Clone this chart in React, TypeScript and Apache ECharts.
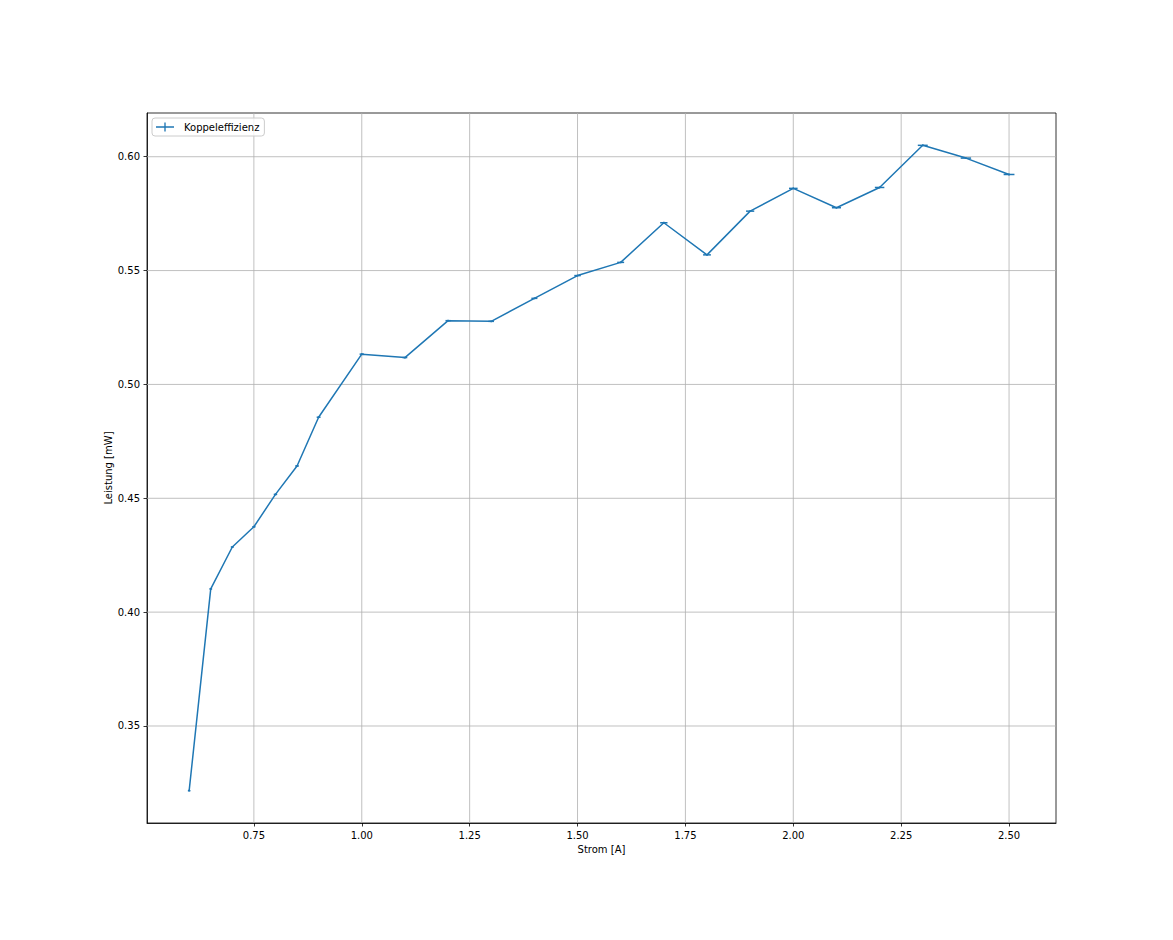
import React, { useEffect, useRef } from "react";
import * as echarts from "echarts";

const current = [0.6, 0.65, 0.7, 0.75, 0.8, 0.85, 0.9, 1.0, 1.1, 1.2, 1.3, 1.4, 1.5, 1.6, 1.7, 1.8, 1.9, 2.0, 2.1, 2.2, 2.3, 2.4, 2.5];
const power = [0.3216, 0.4102, 0.4286, 0.4375, 0.4517, 0.4642, 0.4856, 0.5133, 0.5118, 0.528, 0.5277, 0.5378, 0.5478, 0.5536, 0.571, 0.5569, 0.5761, 0.5861, 0.5776, 0.5865, 0.605, 0.5994, 0.5922];
const currentErr = [0.003, 0.00325, 0.0035, 0.00375, 0.004, 0.00425, 0.0045, 0.005, 0.0055, 0.006, 0.0065, 0.007, 0.0075, 0.008, 0.0085, 0.009, 0.0095, 0.01, 0.0105, 0.011, 0.0115, 0.012, 0.0125];
const powerErr = [0.0004, 0.0004, 0.0004, 0.0004, 0.0004, 0.0004, 0.0004, 0.0004, 0.0004, 0.0004, 0.0004, 0.0004, 0.0004, 0.0004, 0.0004, 0.0004, 0.0004, 0.0004, 0.0004, 0.0004, 0.0004, 0.0004, 0.0004];
const xTicks = [0.75, 1.0, 1.25, 1.5, 1.75, 2.0, 2.25, 2.5];
const yTicks = [0.35, 0.4, 0.45, 0.5, 0.55, 0.6];

const seriesName = "Koppeleffizienz";
const xName = "Strom [A]";
const yName = "Leistung [mW]";

const BLUE = "#1f77b4";
const FONT = "DejaVu Sans";

export default function App() {
  const ref = useRef<HTMLDivElement>(null);
  useEffect(() => {
    if (!ref.current) return;
    const chart = echarts.init(ref.current, null, { renderer: "svg" });
    const lineData = current.map((x, i) => [x, power[i]]);
    const errData = current.map((x, i) => [x, power[i], currentErr[i], powerErr[i]]);
    const textStyle = { color: "#000", fontSize: 10, fontFamily: FONT };
    chart.setOption({
      animation: false,
      backgroundColor: "#fff",
      textStyle: { fontFamily: FONT },
      grid: {
        left: 147,
        top: 113,
        right: 117,
        bottom: 117,
        show: true,
        borderColor: "#000",
        borderWidth: 0.8,
        backgroundColor: "transparent",
      },
      legend: {
        left: 152,
        top: 118,
        padding: [4, 5, 4, 4],
        itemWidth: 20,
        itemHeight: 9,
        borderColor: "#cccccc",
        borderWidth: 1,
        borderRadius: 3,
        backgroundColor: "rgba(255,255,255,0.8)",
        textStyle: { ...textStyle, padding: [0, 0, 0, 4] },
        data: [
          {
            name: seriesName,
            icon: "path://M0,4.25H20V5.75H0Z M9.25,0H10.75V10H9.25Z",
          },
        ],
      },
      xAxis: {
        type: "value",
        min: 0.5023,
        max: 2.6088,
        name: xName,
        nameLocation: "middle",
        nameGap: 21,
        nameTextStyle: textStyle,
        axisLine: { show: true, lineStyle: { color: "#000", width: 0.8 } },
        axisTick: { show: true, length: 3.5, customValues: xTicks, lineStyle: { color: "#000", width: 0.8 } },
        axisLabel: {
          ...textStyle,
          margin: 7,
          customValues: xTicks,
          formatter: (v: number) => v.toFixed(2),
        },
        splitLine: { show: false },
      },
      yAxis: {
        type: "value",
        min: 0.3074,
        max: 0.6192,
        name: yName,
        nameLocation: "middle",
        nameGap: 34,
        nameMoveOverlap: false,
        nameRotate: 90,
        nameTextStyle: textStyle,
        axisLine: { show: true, lineStyle: { color: "#000", width: 0.8 } },
        axisTick: { show: true, length: 3.5, customValues: yTicks, lineStyle: { color: "#000", width: 0.8 } },
        axisLabel: {
          ...textStyle,
          margin: 7,
          customValues: yTicks,
          formatter: (v: number) => v.toFixed(2),
        },
        splitLine: { show: false },
      },
      series: [
        {
          type: "custom",
          name: "vgrid",
          silent: true,
          z: 1,
          data: xTicks.map((v) => [v, 0.5]),
          encode: { x: 0, y: 1 },
          renderItem: (params: any, api: any) => {
            const cs = params.coordSys;
            const p = api.coord([api.value(0), 0.5]);
            return {
              type: "line",
              shape: { x1: p[0], y1: cs.y, x2: p[0], y2: cs.y + cs.height },
              style: { stroke: "#b0b0b0", lineWidth: 0.8 },
            };
          },
        },
        {
          type: "custom",
          name: "hgrid",
          silent: true,
          z: 1,
          data: yTicks.map((v) => [1.5, v]),
          encode: { x: 0, y: 1 },
          renderItem: (params: any, api: any) => {
            const cs = params.coordSys;
            const p = api.coord([1.5, api.value(1)]);
            return {
              type: "line",
              shape: { x1: cs.x, y1: p[1], x2: cs.x + cs.width, y2: p[1] },
              style: { stroke: "#b0b0b0", lineWidth: 0.8 },
            };
          },
        },
        {
          type: "line",
          name: seriesName,
          data: lineData,
          color: BLUE,
          showSymbol: false,
          symbol: "none",
          z: 3,
          lineStyle: { color: BLUE, width: 1.5 },
        },
        {
          type: "custom",
          name: "errors",
          silent: true,
          z: 4,
          data: errData,
          encode: { x: 0, y: 1 },
          renderItem: (params: any, api: any) => {
            const x = api.value(0);
            const y = api.value(1);
            const xe = api.value(2);
            const ye = api.value(3);
            const a = api.coord([x - xe, y]);
            const b = api.coord([x + xe, y]);
            const c = api.coord([x, y - ye]);
            const d = api.coord([x, y + ye]);
            return {
              type: "group",
              children: [
                {
                  type: "line",
                  shape: { x1: a[0], y1: a[1], x2: b[0], y2: b[1] },
                  style: { stroke: BLUE, lineWidth: 1.5 },
                },
                {
                  type: "line",
                  shape: { x1: c[0], y1: c[1], x2: d[0], y2: d[1] },
                  style: { stroke: BLUE, lineWidth: 1.5 },
                },
              ],
            };
          },
        },
      ],
    });
    return () => chart.dispose();
  }, []);
  return (
    <div
      ref={ref}
      style={{ position: "fixed", left: 0, top: 0, width: 1173, height: 940, background: "#fff" }}
    />
  );
}
